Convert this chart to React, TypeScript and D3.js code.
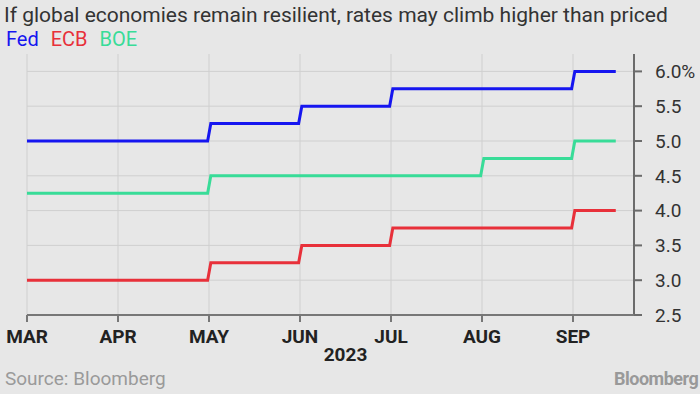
import React, { useEffect, useRef } from 'react';
import * as d3 from 'd3';

const WIDTH = 700;
const HEIGHT = 394;

// month tick labels (index 0 = Mar 2023)
const MONTHS = ['MAR', 'APR', 'MAY', 'JUN', 'JUL', 'AUG', 'SEP'];
const YEAR_LABEL = '2023';
const LAST_OBS = 6.47; // mid-September, in month units

// policy rate path: month index where each rate level starts
const FED_START = [0, 2, 3, 4, 6];
const FED_RATE = [5.0, 5.25, 5.5, 5.75, 6.0];
const ECB_START = [0, 2, 3, 4, 6];
const ECB_RATE = [3.0, 3.25, 3.5, 3.75, 4.0];
const BOE_START = [0, 2, 5, 6];
const BOE_RATE = [4.25, 4.5, 4.75, 5.0];

const Y_TICKS = [2.5, 3.0, 3.5, 4.0, 4.5, 5.0, 5.5, 6.0];

const SERIES = [
  { name: 'Fed', color: '#1616f0', start: FED_START, rate: FED_RATE },
  { name: 'ECB', color: '#e8303a', start: ECB_START, rate: ECB_RATE },
  { name: 'BOE', color: '#38dc98', start: BOE_START, rate: BOE_RATE },
];

const FONT = 'Roboto, "DejaVu Sans", sans-serif';

// turn step starts into a path with a slightly slanted riser
const toPoints = (start, rate) => {
  const pts = [];
  start.forEach((s, i) => {
    if (i === 0) {
      pts.push([s, rate[i]]);
    } else {
      pts.push([s - 0.015, rate[i - 1]]);
      pts.push([s + 0.02, rate[i]]);
    }
  });
  pts.push([LAST_OBS, rate[rate.length - 1]]);
  return pts;
};

const RateChart = () => {
  const svgRef = useRef();

  useEffect(() => {
    const svg = d3.select(svgRef.current);
    svg.selectAll('*').remove();

    const margin = { left: 27, right: 66, top: 54, bottom: 79 };
    const plotRight = WIDTH - margin.right;
    const plotBottom = HEIGHT - margin.bottom;

    svg.append('rect').attr('width', WIDTH).attr('height', HEIGHT).attr('fill', '#e7e7e7');

    const x = d3.scaleLinear().domain([0, 6]).range([margin.left, 573]);
    const y = d3.scaleLinear().domain([2.5, 6.25]).range([plotBottom, margin.top]);

    // gridlines
    svg
      .append('g')
      .selectAll('line')
      .data(Y_TICKS.slice(1))
      .enter()
      .append('line')
      .attr('x1', margin.left)
      .attr('x2', plotRight)
      .attr('y1', (d) => y(d))
      .attr('y2', (d) => y(d))
      .attr('stroke', '#cfcfcf')
      .attr('stroke-width', 1);

    svg
      .append('g')
      .selectAll('line')
      .data(MONTHS)
      .enter()
      .append('line')
      .attr('x1', (d, i) => x(i))
      .attr('x2', (d, i) => x(i))
      .attr('y1', margin.top)
      .attr('y2', plotBottom)
      .attr('stroke', '#cfcfcf')
      .attr('stroke-width', 1);

    // rate paths
    const line = d3
      .line()
      .x((d) => x(d[0]))
      .y((d) => y(d[1]));

    SERIES.forEach((s) => {
      svg
        .append('path')
        .datum(toPoints(s.start, s.rate))
        .attr('d', line)
        .attr('fill', 'none')
        .attr('stroke', s.color)
        .attr('stroke-width', 3)
        .attr('stroke-linejoin', 'miter');
    });

    // right axis
    const yAxis = svg.append('g').attr('transform', `translate(${plotRight},0)`);
    yAxis
      .append('line')
      .attr('y1', margin.top)
      .attr('y2', plotBottom + 1)
      .attr('stroke', '#6b6b6b')
      .attr('stroke-width', 2);
    const yTick = yAxis
      .selectAll('g')
      .data(Y_TICKS)
      .enter()
      .append('g')
      .attr('transform', (d) => `translate(0,${y(d)})`);
    yTick.append('line').attr('x1', 0).attr('x2', 8).attr('stroke', '#6b6b6b').attr('stroke-width', 2);
    yTick
      .append('text')
      .attr('x', 21)
      .attr('dy', '0.36em')
      .attr('fill', '#333')
      .style('font-family', FONT)
      .style('font-size', '19px')
      .text((d, i) => d3.format('.1f')(d) + (i === Y_TICKS.length - 1 ? '%' : ''));

    // bottom axis
    const xAxis = svg.append('g').attr('transform', `translate(0,${plotBottom})`);
    xAxis
      .append('line')
      .attr('x1', margin.left)
      .attr('x2', plotRight)
      .attr('stroke', '#777')
      .attr('stroke-width', 2);
    const xTick = xAxis
      .selectAll('g')
      .data(MONTHS)
      .enter()
      .append('g')
      .attr('transform', (d, i) => `translate(${x(i)},0)`);
    xTick.append('line').attr('y1', 0).attr('y2', 7).attr('stroke', '#777').attr('stroke-width', 2);
    xTick
      .append('text')
      .attr('y', 28)
      .attr('text-anchor', 'middle')
      .attr('fill', '#222')
      .style('font-family', FONT)
      .style('font-weight', 'bold')
      .style('font-size', '19px')
      .text((d) => d);

    svg
      .append('text')
      .attr('x', (x(3) + x(4)) / 2)
      .attr('y', plotBottom + 46)
      .attr('text-anchor', 'middle')
      .attr('fill', '#222')
      .style('font-family', FONT)
      .style('font-weight', 'bold')
      .style('font-size', '19px')
      .text(YEAR_LABEL);

    // titles and legend
    svg
      .append('text')
      .attr('x', 4)
      .attr('y', 22)
      .attr('fill', '#333')
      .style('font-family', FONT)
      .style('font-size', '21px')
      .text('If global economies remain resilient, rates may climb higher than priced');

    const legend = svg.append('text').attr('x', 6).attr('y', 46).style('font-family', FONT).style('font-size', '20px');
    SERIES.forEach((s, i) => {
      legend
        .append('tspan')
        .attr('dx', i === 0 ? 0 : 12)
        .attr('fill', s.color)
        .text(s.name);
    });

    svg
      .append('text')
      .attr('x', 5)
      .attr('y', 385)
      .attr('fill', '#9a9a9a')
      .style('font-family', FONT)
      .style('font-size', '19px')
      .text('Source: Bloomberg');

    svg
      .append('text')
      .attr('x', 614)
      .attr('y', 385)
      .attr('fill', '#999')
      .style('font-family', FONT)
      .style('font-weight', 'bold')
      .style('font-size', '18px')
      .style('letter-spacing', '-0.5px')
      .text('Bloomberg');
  }, []);

  return (
    <svg
      ref={svgRef}
      width={WIDTH}
      height={HEIGHT}
      style={{ position: 'absolute', left: 0, top: 0, display: 'block' }}
    ></svg>
  );
};

export default function App() {
  return <RateChart />;
}
